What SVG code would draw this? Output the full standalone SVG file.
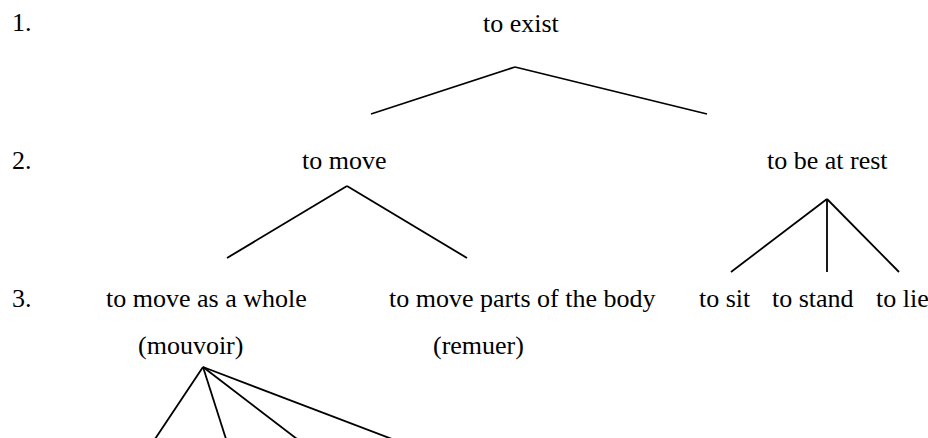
<svg xmlns="http://www.w3.org/2000/svg" width="928" height="438" viewBox="0 0 928 438">
<style>
text{font-family:"Liberation Serif","Times New Roman",serif;font-size:26px;fill:#000}
.c line{stroke:#000;stroke-width:1.8;stroke-linecap:butt}
</style>
<rect width="928" height="438" fill="#fff"/>
<g id="levels">
<text x="12" y="31">1.</text>
<text x="12" y="169">2.</text>
<text x="12" y="307">3.</text>
</g>
<g id="n-exist"><text x="483" y="32">to exist</text></g>
<g id="n-move"><text x="302" y="169">to move</text></g>
<g id="n-rest"><text x="767" y="169">to be at rest</text></g>
<g id="n-whole"><text x="106" y="307">to move as a whole</text><text x="138" y="354">(mouvoir)</text></g>
<g id="n-parts"><text x="389" y="307">to move parts of the body</text><text x="433" y="354">(remuer)</text></g>
<g id="n-sit"><text x="699" y="307">to sit</text></g>
<g id="n-stand"><text x="772" y="307">to stand</text></g>
<g id="n-lie"><text x="876" y="307">to lie</text></g>
<g id="connectors" class="c">
<line x1="515" y1="67" x2="371" y2="114"/>
<line x1="515" y1="67" x2="707" y2="114"/>
<line x1="347" y1="186" x2="227" y2="258"/>
<line x1="347" y1="186" x2="467" y2="258"/>
<line x1="827" y1="199" x2="731" y2="272"/>
<line x1="827" y1="199" x2="827" y2="272"/>
<line x1="827" y1="199" x2="899" y2="272"/>
<line x1="203" y1="367" x2="155" y2="439"/>
<line x1="203" y1="367" x2="226" y2="439"/>
<line x1="203" y1="367" x2="297" y2="439"/>
<line x1="203" y1="367" x2="392" y2="439"/>
</g>
</svg>
